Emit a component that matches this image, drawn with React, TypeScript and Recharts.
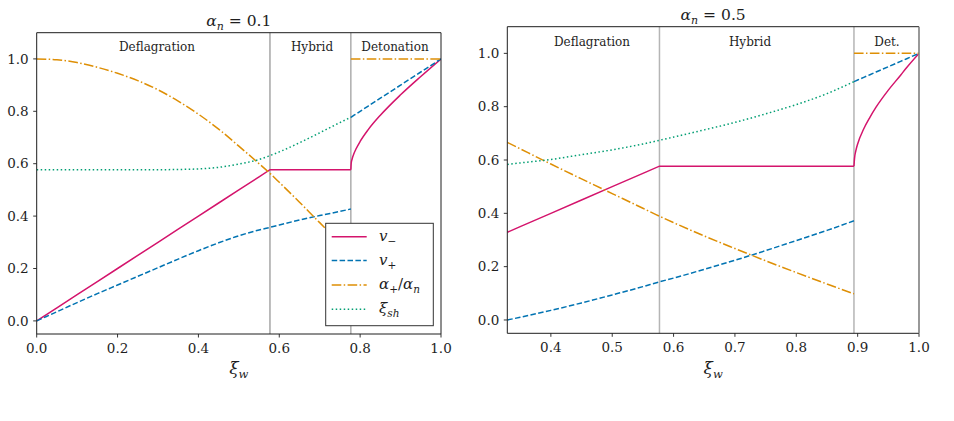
import React from 'react';
import { LineChart, Line, XAxis, YAxis, ReferenceLine } from 'recharts';

const FONT = 'DejaVu Serif, Liberation Serif, serif';
const INK = '#1e1e1e';

// ---------- alpha_n = 0.1 ----------
// deflagration + hybrid branch
const XI_L = [0, 0.05, 0.1, 0.15, 0.2, 0.25, 0.3, 0.35, 0.4, 0.45, 0.5, 0.55, 0.577, 0.6, 0.65, 0.7, 0.75, 0.777];
const VMINUS_L = [0, 0.05, 0.1, 0.15, 0.2, 0.25, 0.3, 0.35, 0.4, 0.45, 0.5, 0.55, 0.577, 0.577, 0.577, 0.577, 0.577, 0.577];
const VPLUS_L = [0, 0.035, 0.07, 0.104, 0.137, 0.17, 0.203, 0.236, 0.268, 0.298, 0.325, 0.347, 0.357, 0.366, 0.385, 0.402, 0.418, 0.427];
const ALPHA_L = [1.0, 0.997, 0.986, 0.968, 0.945, 0.917, 0.882, 0.839, 0.789, 0.732, 0.667, 0.6, 0.563, 0.529, 0.453, 0.375, 0.3, 0.265];
const XISH_L = [0.577, 0.577, 0.577, 0.577, 0.577, 0.577, 0.577, 0.578, 0.58, 0.586, 0.599, 0.616, 0.631, 0.645, 0.68, 0.718, 0.757, 0.777];
// detonation branch
const XI_DET_L = [0.777, 0.778, 0.78, 0.785, 0.79, 0.8, 0.82, 0.85, 0.9, 0.95, 1.0];
const VMINUS_DET_L = [0.577, 0.603, 0.617, 0.64, 0.657, 0.685, 0.73, 0.785, 0.863, 0.933, 1.0];
const VPLUS_DET_L = [0.777, 0.778, 0.78, 0.785, 0.79, 0.8, 0.82, 0.85, 0.9, 0.95, 1.0];
const ALPHA_DET_L = [1, 1, 1, 1, 1, 1, 1, 1, 1, 1, 1];

// ---------- alpha_n = 0.5 ----------
const XI_R = [0.329, 0.35, 0.4, 0.45, 0.5, 0.55, 0.577, 0.6, 0.65, 0.7, 0.75, 0.8, 0.85, 0.894];
const VMINUS_R = [0.329, 0.35, 0.4, 0.45, 0.5, 0.55, 0.577, 0.577, 0.577, 0.577, 0.577, 0.577, 0.577, 0.577];
const VPLUS_R = [0, 0.01, 0.036, 0.064, 0.094, 0.125, 0.143, 0.157, 0.19, 0.224, 0.26, 0.298, 0.336, 0.372];
const ALPHA_R = [0.666, 0.642, 0.585, 0.529, 0.474, 0.419, 0.389, 0.365, 0.315, 0.268, 0.222, 0.178, 0.135, 0.098];
const XISH_R = [0.583, 0.589, 0.602, 0.62, 0.638, 0.66, 0.674, 0.686, 0.713, 0.741, 0.773, 0.808, 0.849, 0.894];
const XI_DET_R = [0.894, 0.895, 0.897, 0.9, 0.91, 0.92, 0.93, 0.95, 0.97, 0.98, 1.0];
const VMINUS_DET_R = [0.577, 0.608, 0.634, 0.66, 0.717, 0.76, 0.798, 0.862, 0.918, 0.947, 1.0];
const VPLUS_DET_R = [0.894, 0.895, 0.897, 0.9, 0.91, 0.92, 0.93, 0.95, 0.97, 0.98, 1.0];
const ALPHA_DET_R = [1, 1, 1, 1, 1, 1, 1, 1, 1, 1, 1];

// axes
const Y_TICKS = [0, 0.2, 0.4, 0.6, 0.8, 1.0];
const X_TICKS_L = [0, 0.2, 0.4, 0.6, 0.8, 1.0];
const X_TICKS_R = [0.4, 0.5, 0.6, 0.7, 0.8, 0.9, 1.0];

type Pt = { xi: number; v: number };
const pts = (xs: number[], ys: number[]): Pt[] => xs.map((x, i) => ({ xi: x, v: ys[i] }));

const COLOR = { vm: '#d4146c', vp: '#0173b2', al: '#de8f05', sh: '#029e73' };
const DASH: Record<string, string | undefined> = {
  vm: undefined,
  vp: '5.5 2.4',
  al: '9.6 2.4 1.5 2.4',
  sh: '1.5 2.5',
};

type SeriesDef = { key: 'vm' | 'vp' | 'al' | 'sh'; data: Pt[]; curve: 'linear' | 'monotone' };

type PanelGeom = {
  left: number;
  width: number;
  plotL: number;
  plotR: number;
  plotT: number;
  plotB: number;
};

const H = 421;
const X_AXIS_H = 30;

const GEOM_L: PanelGeom = { left: 0, width: 470, plotL: 36.7, plotR: 441, plotT: 32.7, plotB: 334 };
const GEOM_R: PanelGeom = { left: 470, width: 484, plotL: 507.3, plotR: 919, plotT: 26.7, plotB: 333.3 };

const tickStyle = { fill: INK, fontSize: 13.5, fontFamily: FONT };

function Panel(props: {
  g: PanelGeom;
  xDomain: [number, number];
  xTicks: number[];
  series: SeriesDef[];
  bounds: { x: number; stroke: string; w: number }[];
}) {
  const { g, xDomain, xTicks, series, bounds } = props;
  const margin = {
    top: g.plotT,
    right: g.left + g.width - g.plotR,
    bottom: H - g.plotB - X_AXIS_H,
    left: 0,
  };
  return (
    <div style={{ position: 'absolute', left: g.left, top: 0 }}>
      <LineChart width={g.width} height={H} margin={margin}>
        <XAxis
          type="number"
          dataKey="xi"
          domain={xDomain}
          ticks={xTicks}
          allowDataOverflow
          height={X_AXIS_H}
          axisLine={false}
          tickLine={{ stroke: INK, strokeWidth: 0.9 }}
          tickSize={3.5}
          tickMargin={5.5}
          tick={tickStyle}
          tickFormatter={(v: number) => v.toFixed(1)}
          interval={0}
        />
        <YAxis
          type="number"
          dataKey="v"
          domain={[-0.05, 1.1]}
          ticks={Y_TICKS}
          allowDataOverflow
          width={g.plotL - g.left}
          axisLine={false}
          tickLine={{ stroke: INK, strokeWidth: 0.9 }}
          tickSize={3.5}
          tickMargin={4.5}
          tick={tickStyle}
          tickFormatter={(v: number) => v.toFixed(1)}
          interval={0}
        />
        {bounds.map((b, i) => (
          <ReferenceLine key={`b${i}`} x={b.x} stroke={b.stroke} strokeWidth={b.w} ifOverflow="visible" />
        ))}
        {series.map((s, i) => (
          <Line
            key={`s${i}`}
            data={s.data}
            dataKey="v"
            type={s.curve}
            stroke={COLOR[s.key]}
            strokeWidth={1.5}
            strokeDasharray={DASH[s.key]}
            dot={false}
            activeDot={false}
            isAnimationActive={false}
            connectNulls={false}
          />
        ))}
      </LineChart>
    </div>
  );
}

const SERIES_L: SeriesDef[] = [
  { key: 'vm', data: pts(XI_L, VMINUS_L), curve: 'linear' },
  { key: 'vm', data: pts(XI_DET_L, VMINUS_DET_L), curve: 'monotone' },
  { key: 'vp', data: pts(XI_L, VPLUS_L), curve: 'monotone' },
  { key: 'vp', data: pts(XI_DET_L, VPLUS_DET_L), curve: 'linear' },
  { key: 'al', data: pts(XI_L, ALPHA_L), curve: 'monotone' },
  { key: 'al', data: pts(XI_DET_L, ALPHA_DET_L), curve: 'linear' },
  { key: 'sh', data: pts(XI_L, XISH_L), curve: 'monotone' },
];

const SERIES_R: SeriesDef[] = [
  { key: 'vm', data: pts(XI_R, VMINUS_R), curve: 'linear' },
  { key: 'vm', data: pts(XI_DET_R, VMINUS_DET_R), curve: 'monotone' },
  { key: 'vp', data: pts(XI_R, VPLUS_R), curve: 'monotone' },
  { key: 'vp', data: pts(XI_DET_R, VPLUS_DET_R), curve: 'linear' },
  { key: 'al', data: pts(XI_R, ALPHA_R), curve: 'monotone' },
  { key: 'al', data: pts(XI_DET_R, ALPHA_DET_R), curve: 'linear' },
  { key: 'sh', data: pts(XI_R, XISH_R), curve: 'monotone' },
];

function Frame({ g, rightStroke, rightWidth }: { g: PanelGeom; rightStroke: string; rightWidth: number }) {
  return (
    <g>
      <line x1={g.plotL} y1={g.plotT} x2={g.plotR} y2={g.plotT} stroke={INK} strokeWidth={1} />
      <line x1={g.plotL} y1={g.plotB} x2={g.plotR} y2={g.plotB} stroke={INK} strokeWidth={1} />
      <line x1={g.plotL} y1={g.plotT} x2={g.plotL} y2={g.plotB} stroke={INK} strokeWidth={1} />
      <line x1={g.plotR} y1={g.plotT} x2={g.plotR} y2={g.plotB} stroke={rightStroke} strokeWidth={rightWidth} />
    </g>
  );
}

function Title({ cx, y, value }: { cx: number; y: number; value: string }) {
  return (
    <text x={cx} y={y} textAnchor="middle" fontFamily={FONT} fontSize={15.5} fill={INK}>
      <tspan fontStyle="italic">α</tspan>
      <tspan fontStyle="italic" fontSize={11} dy={4}>n</tspan>
      <tspan dy={-4}> = {value}</tspan>
    </text>
  );
}

function XLabel({ cx, y }: { cx: number; y: number }) {
  return (
    <text x={cx} y={y} textAnchor="middle" fontFamily={FONT} fontSize={17} fill={INK}>
      <tspan fontStyle="italic">ξ</tspan>
      <tspan fontStyle="italic" fontSize={11.5} dy={4}>w</tspan>
    </text>
  );
}

function Region({ x, y, text }: { x: number; y: number; text: string }) {
  return (
    <text x={x} y={y} textAnchor="middle" fontFamily={FONT} fontSize={12} fill={INK}>
      {text}
    </text>
  );
}

function LegendBox() {
  const x0 = 325.7;
  const y0 = 223.3;
  const rows = [236.7, 260.5, 285, 309.3];
  const keys: ('vm' | 'vp' | 'al' | 'sh')[] = ['vm', 'vp', 'al', 'sh'];
  const labels = [
    <>
      <tspan fontStyle="italic">v</tspan>
      <tspan fontSize={10.5} dy={4}>−</tspan>
    </>,
    <>
      <tspan fontStyle="italic">v</tspan>
      <tspan fontSize={10.5} dy={4}>+</tspan>
    </>,
    <>
      <tspan fontStyle="italic">α</tspan>
      <tspan fontSize={10.5} dy={4}>+</tspan>
      <tspan dy={-4}>/</tspan>
      <tspan fontStyle="italic">α</tspan>
      <tspan fontStyle="italic" fontSize={10.5} dy={4}>n</tspan>
    </>,
    <>
      <tspan fontStyle="italic">ξ</tspan>
      <tspan fontStyle="italic" fontSize={10.5} dy={4}>sh</tspan>
    </>,
  ];
  return (
    <g>
      <rect x={x0} y={y0} width={107.6} height={102.4} fill="#ffffff" stroke="#333333" strokeWidth={1} />
      {keys.map((k, i) => (
        <g key={k}>
          <line
            x1={331.7}
            x2={366.7}
            y1={rows[i]}
            y2={rows[i]}
            stroke={COLOR[k]}
            strokeWidth={1.5}
            strokeDasharray={DASH[k]}
          />
          <text x={379} y={rows[i] + 4} fontFamily={FONT} fontSize={15} fill={INK}>
            {labels[i]}
          </text>
        </g>
      ))}
    </g>
  );
}

export default function App() {
  const cxL = (GEOM_L.plotL + GEOM_L.plotR) / 2;
  const cxR = (GEOM_R.plotL + GEOM_R.plotR) / 2;
  return (
    <div style={{ position: 'absolute', left: 0, top: 0, width: 954, height: H, background: '#ffffff' }}>
      <Panel
        g={GEOM_L}
        xDomain={[0, 1]}
        xTicks={X_TICKS_L}
        series={SERIES_L}
        bounds={[
          { x: 0.577, stroke: '#7a7a7a', w: 1 },
          { x: 0.777, stroke: '#adadad', w: 1.5 },
        ]}
      />
      <Panel
        g={GEOM_R}
        xDomain={[0.329, 1]}
        xTicks={X_TICKS_R}
        series={SERIES_R}
        bounds={[
          { x: 0.577, stroke: '#b5b5b5', w: 1.5 },
          { x: 0.894, stroke: '#b5b5b5', w: 1.5 },
        ]}
      />
      <svg
        width={954}
        height={H}
        style={{ position: 'absolute', left: 0, top: 0, pointerEvents: 'none' }}
      >
        <Frame g={GEOM_L} rightStroke={INK} rightWidth={1} />
        <Frame g={GEOM_R} rightStroke="#7f7f7f" rightWidth={1.6} />
        <Title cx={cxL} y={26} value="0.1" />
        <Title cx={cxR} y={20} value="0.5" />
        <XLabel cx={cxL} y={374} />
        <XLabel cx={cxR} y={374} />
        <Region x={157} y={51} text="Deflagration" />
        <Region x={312} y={51} text="Hybrid" />
        <Region x={395} y={51} text="Detonation" />
        <Region x={592} y={46} text="Deflagration" />
        <Region x={750} y={46} text="Hybrid" />
        <Region x={887} y={46} text="Det." />
        <LegendBox />
      </svg>
    </div>
  );
}
